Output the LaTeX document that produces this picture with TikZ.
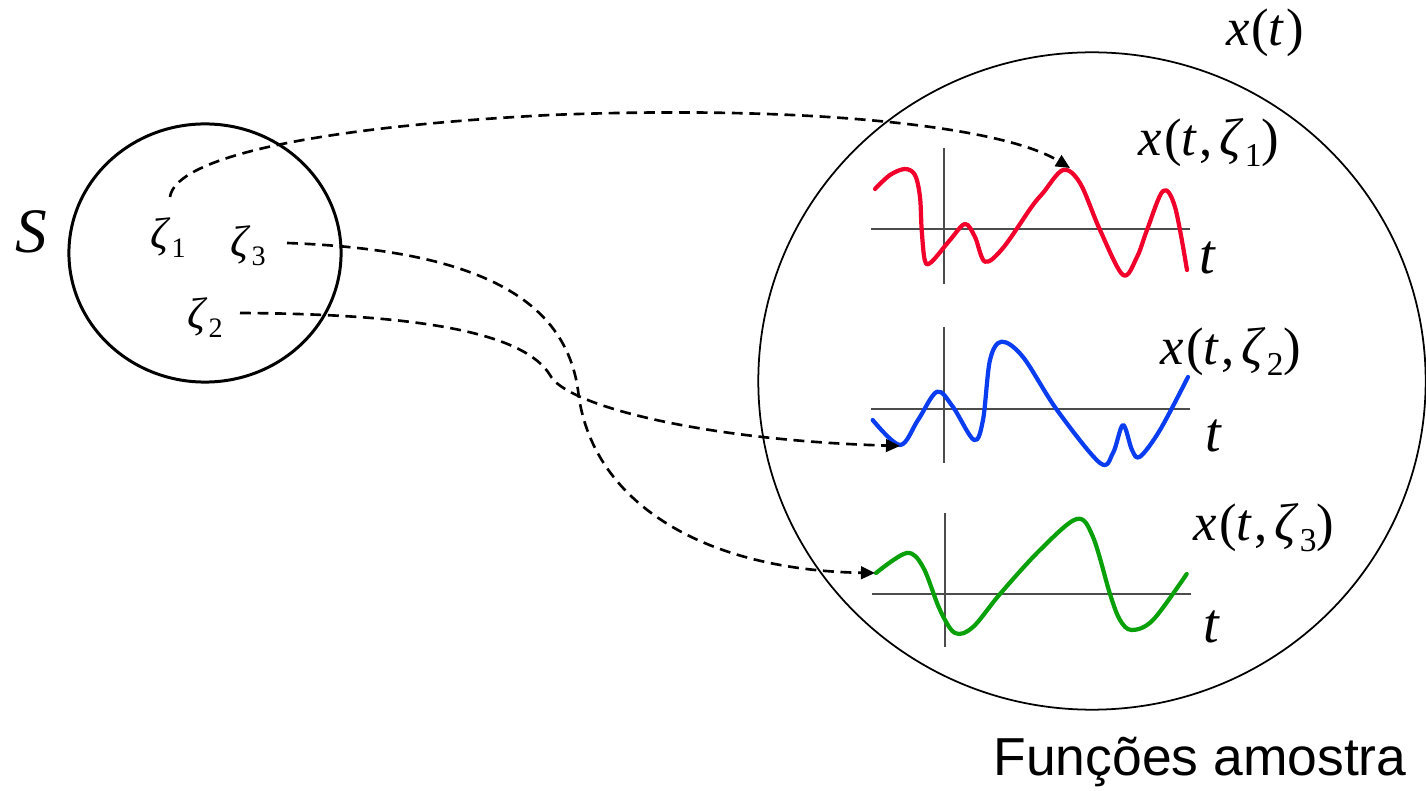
\documentclass[tikz,border=0pt]{standalone}
\usepackage{fontspec}
\setmainfont{Liberation Serif}[ItalicFont={Liberation Serif Italic}, BoldFont={Liberation Serif Bold}]
\newfontfamily\arialfont{Liberation Sans}
\usetikzlibrary{arrows.meta}
\definecolor{cred}{HTML}{F0002A}
\definecolor{cblue}{HTML}{0A3CF0}
\definecolor{cgreen}{HTML}{0AA00A}
\newcommand{\zsub}[2]{\textit{ζ}\kern0.3pt\raisebox{-0.45ex}{\fontsize{#2}{#2}\selectfont #1}}
\newcommand{\xtz}[1]{\textit{x}\kern0.5pt(\textit{t}\kern0.5pt,\kern2pt\zsub{#1}{9.5})}
\tikzset{
  setS/.style={draw, line width=0.85pt},
  setX/.style={draw, line width=0.5pt},
  zlab/.style={inner sep=0pt, font=\fontsize{12.5}{14}\selectfont},
  xlab/.style={inner sep=0pt, font=\fontsize{15}{17}\selectfont},
  tlab/.style={inner sep=0pt, font=\fontsize{16}{18}\selectfont\itshape},
  link/.style={line width=0.75pt, dash pattern=on 3.1pt off 1.9pt, -{Triangle[length=4pt,width=3.6pt]}},
  axis/.style={line width=0.5pt, black!70},
  sig/.style={line width=1.2pt, line cap=round, line join=round}
}
\begin{document}
\begin{tikzpicture}[x=0.01cm, y=-0.01cm]
\useasboundingbox (0,0) rectangle (1426,791);
% sets
\draw[setS] (205,253) ellipse [x radius=1.36cm, y radius=1.29cm];
\draw[setX] (1092,381) ellipse [x radius=3.335cm, y radius=3.285cm];
\node[inner sep=0pt, font=\fontsize{18}{20}\selectfont\itshape] (S) at (31,232) {S};
% zeta labels
\node[zlab] (z1) at (168,238) {\zsub{1}{8}};
\node[zlab] (z3) at (248,246) {\zsub{3}{8}};
\node[zlab] (z2) at (205,318) {\zsub{2}{8}};
% right labels
\node[xlab] (xt) at (1265,33) {\textit{x}\kern0.5pt(\textit{t}\kern0.5pt)};
\node[xlab] (x1) at (1209,143) {\xtz{1}};
\node[xlab] (x2) at (1231,352) {\xtz{2}};
\node[xlab] (x3) at (1264,528) {\xtz{3}};
\node[tlab] (t1) at (1207,258) {t};
\node[tlab] (t2) at (1213,436) {t};
\node[tlab] (t3) at (1211,627) {t};
\node[inner sep=0pt, font=\fontsize{15.2}{17}\selectfont\arialfont] (fa) at (1200,762) {Funções amostra};
% axes
\draw[axis] (871,229) -- (1190,229);
\draw[axis] (944,148) -- (944,284);
\draw[axis] (871,409) -- (1190,409);
\draw[axis] (944,327) -- (944,463);
\draw[axis] (872,594) -- (1191,594);
\draw[axis] (945,513) -- (945,647);
% signals
\draw[sig, cred] plot[smooth, tension=0.55] coordinates {
 (875,189) (890,175) (905,169) (915,175) (920,197) (921.7,230) (925,261) (931.7,261.7)
 (950,240) (965,224) (975,237) (985,261.7) (1003,248) (1031.7,206.7) (1043,193)
 (1063,170) (1080,183) (1100,230) (1123,275) (1137,257) (1147,230) (1163,191)
 (1175,207) (1187,270)};
\draw[sig, cblue] plot[smooth, tension=0.55] coordinates {
 (872.7,420) (900,445) (918,420) (937,391.7) (953,407) (974,440) (983,420) (990,360)
 (1001.7,341.7) (1023,357) (1057,410) (1100,463) (1113,453) (1123,425) (1132,450)
 (1140,456.7) (1160,430) (1188,377)};
\draw[sig, cgreen] plot[smooth, tension=0.55] coordinates {
 (876,573) (906.7,553) (923,567) (940,610) (955,633) (973,627) (1000,594) (1040,550)
 (1076.7,519) (1093,537) (1110,594) (1120,620) (1131.7,630) (1153,620) (1186.7,574)};
% targets
\coordinate (r1) at (1070,168);
\coordinate (r2) at (900,446);
\coordinate (r3) at (875,573);
\coordinate (s1) at (170,197);
\coordinate (s3) at (287,243);
\coordinate (s2) at (240,313);
% links
\draw[link] (s1) .. controls (175,160) and (300,128) .. (550,115) .. controls (800,105) and (1000,125) .. (r1);
\draw[link] (s3) .. controls (480,250) and (565,300) .. (578,390) .. controls (590,500) and (700,570) .. (r3);
\draw[link] (s2) .. controls (430,314) and (525,335) .. (550,375) .. controls (565,405) and (700,440) .. (r2);
\end{tikzpicture}
\end{document}
